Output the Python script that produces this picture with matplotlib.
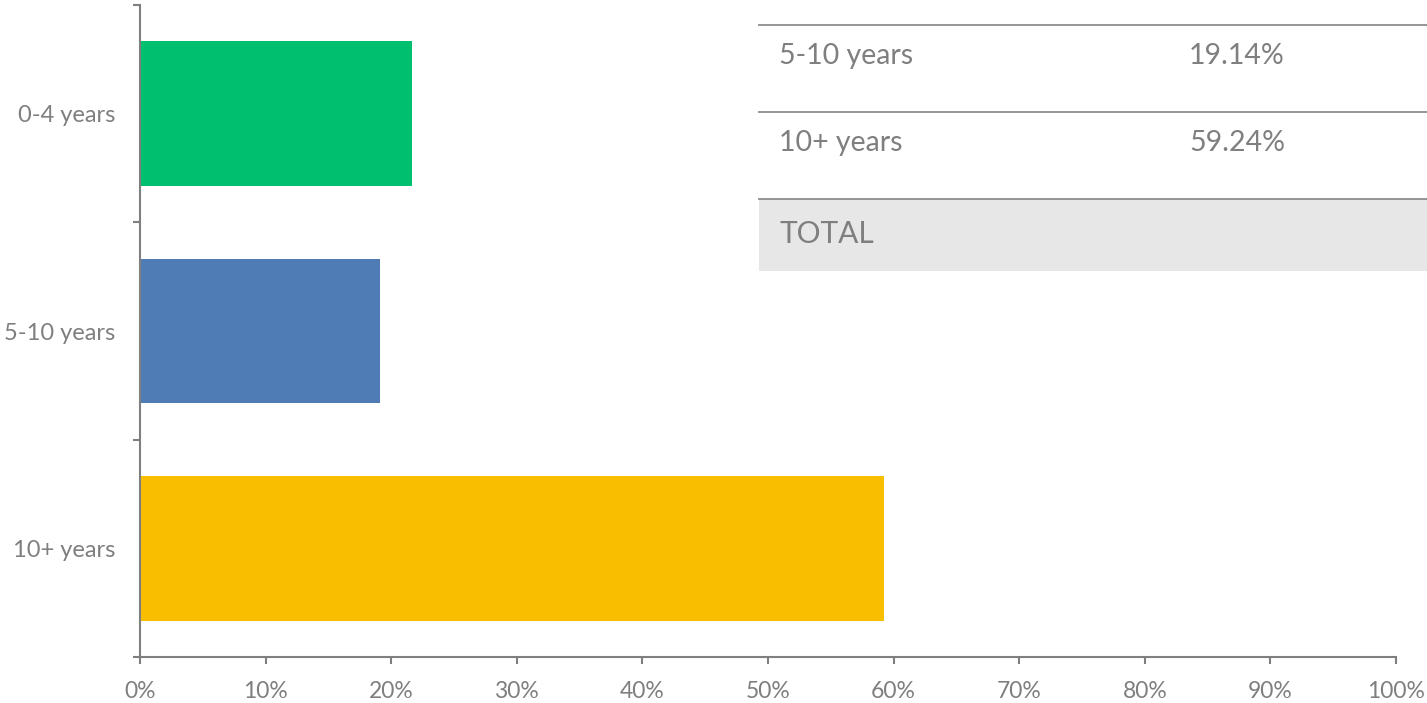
import matplotlib.pyplot as plt
from matplotlib.patches import Rectangle
from matplotlib.lines import Line2D

# ------------------------------
# Data
# ------------------------------
categories = ["0-4 years", "5-10 years", "10+ years"]
shares = [21.62, 19.14, 59.24]          # percent
bar_colors = ["#00BF6F", "#507CB6", "#F9BE00"]
xticks = list(range(0, 101, 10))
# visible rows of the summary table (its first row is scrolled out of view)
table_labels = ["5-10 years", "10+ years"]
table_values = ["19.14%", "59.24%"]

GREY = "#7F7F7F"
W, H = 1427, 703
plt.rcParams["font.family"] = ["Lato", "DejaVu Sans"]

fig = plt.figure(figsize=(W / 100, H / 100), dpi=100)
ax = fig.add_axes([140 / W, (H - 657) / H, (1396 - 140) / W, (657 - 5) / H])

# ------------------------------
# Bars
# ------------------------------
ypos = list(range(len(categories)))
ax.barh(ypos, shares, height=0.665, color=bar_colors)
ax.set_xlim(0, 100)
ax.set_ylim(len(categories) - 0.5, -0.5)

ax.set_xticks(xticks)
ax.set_xticklabels([f"{t}%" for t in xticks])
ax.set_yticks(ypos)
ax.set_yticklabels(categories)
ax.set_yticks([i - 0.5 for i in range(len(categories) + 1)], minor=True)

ax.tick_params(axis="y", which="major", length=0, pad=18, labelsize=17, labelcolor=GREY)
ax.tick_params(axis="y", which="minor", length=5, width=1.5, color=GREY)
ax.tick_params(axis="x", length=5, width=1.5, color=GREY, labelsize=16.5,
               labelcolor=GREY, pad=12)

for s in ["top", "right"]:
    ax.spines[s].set_visible(False)
for s in ["left", "bottom"]:
    ax.spines[s].set_color(GREY)
    ax.spines[s].set_linewidth(1.5)

# ------------------------------
# Overlay table
# ------------------------------
def fy(py):
    return 1 - py / H

def fx(px):
    return px / W

row_h = 87
first_line = 25
tx0, tx1 = 759, 1427
for i, (lab, val) in enumerate(zip(table_labels, table_values)):
    top = first_line + i * row_h
    fig.add_artist(Line2D([fx(tx0), fx(tx1)], [fy(top), fy(top)],
                          color="#8C8C8C", lw=1.3))
    cy = top + 31
    fig.text(fx(779), fy(cy), lab, fontsize=20.5, color=GREY, va="center")
    fig.text(fx(1189), fy(cy), val, fontsize=20.5, color=GREY, va="center")

total_top = first_line + len(table_labels) * row_h
fig.add_artist(Rectangle((fx(tx0), fy(271)), fx(tx1) - fx(tx0), fy(total_top) - fy(271),
                         facecolor="#E7E7E7", edgecolor="none"))
fig.add_artist(Line2D([fx(tx0), fx(tx1)], [fy(total_top), fy(total_top)],
                      color="#8C8C8C", lw=1.3))
fig.text(fx(779), fy(total_top + 35), "TOTAL", fontsize=21.5, color=GREY, va="center")

fig.savefig("out.png", dpi=100)
